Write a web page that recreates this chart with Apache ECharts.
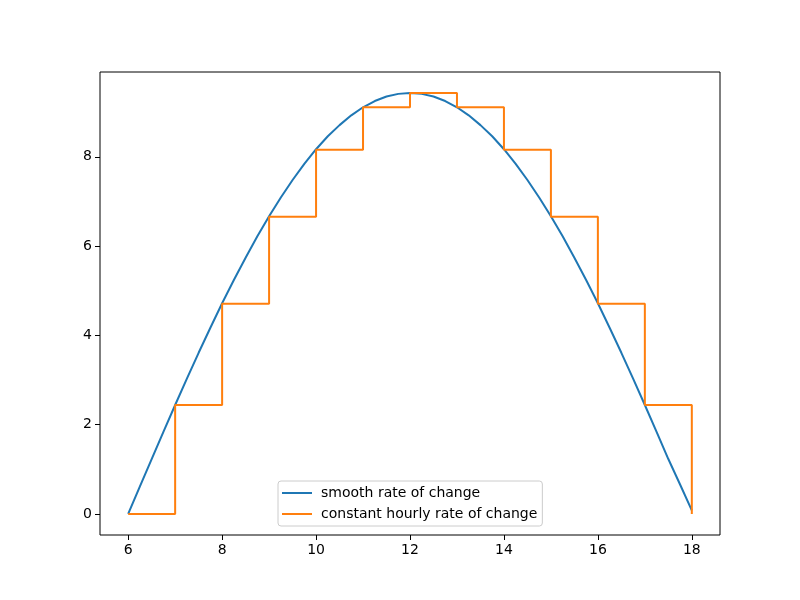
<!DOCTYPE html>
<html><head><meta charset="utf-8">
<script src="https://cdn.jsdelivr.net/npm/echarts@6/dist/echarts.min.js"></script>
<style>html,body{margin:0;padding:0;background:#fff}#c{width:800px;height:600px}</style>
</head><body><div id="c"></div>
<script>
// smooth curve samples (hour, rate), read every quarter hour
const smoothHours = [6,6.25,6.5,6.75,7,7.25,7.5,7.75,8,8.25,8.5,8.75,9,9.25,9.5,9.75,10,10.25,10.5,10.75,11,11.25,11.5,11.75,12,
  12.25,12.5,12.75,13,13.25,13.5,13.75,14,14.25,14.5,14.75,15,15.25,15.5,15.75,16,16.25,16.5,16.75,17,17.25,17.5,17.75,18];
const smoothRates = [0,0.62,1.23,1.84,2.44,3.03,3.61,4.17,4.72,5.24,5.74,6.22,6.67,7.09,7.48,7.84,8.17,8.46,8.71,8.93,9.11,9.25,9.35,9.41,9.43,
  9.41,9.35,9.25,9.11,8.93,8.71,8.46,8.17,7.84,7.48,7.09,6.67,6.22,5.74,5.24,4.72,4.17,3.61,3.03,2.44,1.84,1.23,0.66,0.08];
// hourly step values
const stepHours = [6,7,8,9,10,11,12,13,14,15,16,17,18];
const stepRates = [0,2.44,4.71,6.66,8.16,9.11,9.43,9.11,8.16,6.66,4.71,2.44,0];
const xTicks = [6,8,10,12,14,16,18];
const yTicks = [0,2,4,6,8];
const seriesNames = ['smooth rate of change','constant hourly rate of change'];

const chart = echarts.init(document.getElementById('c'));
const font = 'DejaVu Sans';
chart.setOption({
  animation:false,
  backgroundColor:'#fff',
  grid:{left:100,right:80,top:72,bottom:65,show:true,borderColor:'#000',borderWidth:1,backgroundColor:'transparent'},
  xAxis:{type:'value',min:5.4,max:18.6,
    axisLine:{show:false,onZero:false},splitLine:{show:false},
    axisTick:{show:true,length:5,inside:false,lineStyle:{color:'#000'},customValues:xTicks},
    axisLabel:{color:'#000',fontFamily:font,fontSize:14,margin:8,customValues:xTicks}},
  yAxis:{type:'value',min:-0.4715,max:9.9,
    axisLine:{show:false,onZero:false},splitLine:{show:false},
    axisTick:{show:true,length:5,inside:false,lineStyle:{color:'#000'},customValues:yTicks},
    axisLabel:{color:'#000',fontFamily:font,fontSize:14,margin:8,customValues:yTicks}},
  legend:{orient:'vertical',left:278,top:481,
    backgroundColor:'#fff',borderColor:'#ccc',borderWidth:1,borderRadius:3,
    padding:[5,5,5,4],itemGap:7,itemWidth:30,itemHeight:2,icon:'rect',
    textStyle:{fontFamily:font,fontSize:14,color:'#000',padding:[0,0,0,4]},
    data:seriesNames},
  series:[
    {name:seriesNames[0],type:'line',symbol:'none',
     lineStyle:{color:'#1f77b4',width:2},itemStyle:{color:'#1f77b4'},
     data:smoothHours.map((h,i)=>[h,smoothRates[i]])},
    {name:seriesNames[1],type:'line',step:'end',symbol:'none',
     lineStyle:{color:'#ff7f0e',width:2},itemStyle:{color:'#ff7f0e'},
     data:stepHours.map((h,i)=>[h,stepRates[i]])}
  ]
});
</script></body></html>
